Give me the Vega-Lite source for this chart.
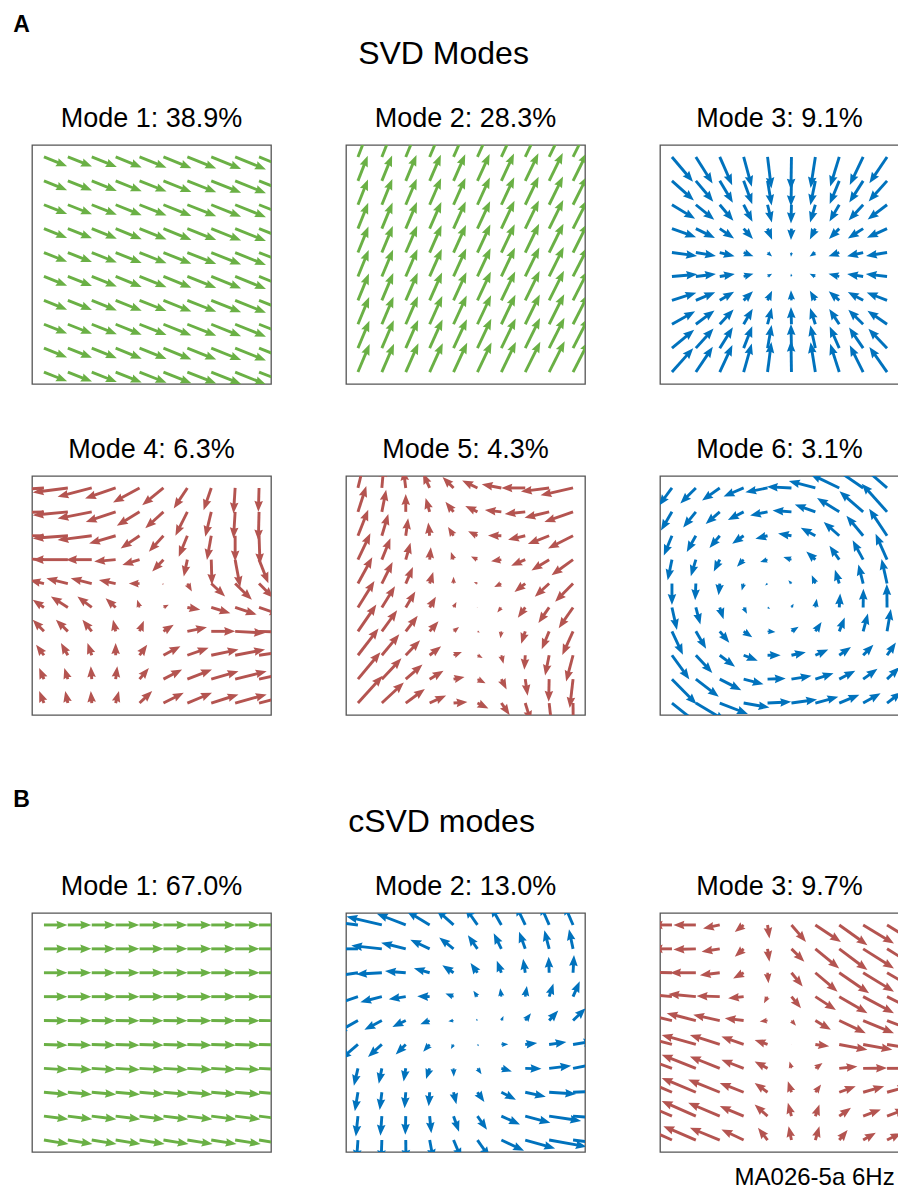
{
  "$schema": "https://vega.github.io/schema/vega-lite/v6.json",
  "background": "white",
  "padding": {"left": 13, "top": 14, "right": 0, "bottom": 0},
  "spacing": 73,
  "config": {
    "view": {"stroke": "#555555", "strokeWidth": 1.3},
    "font": "Liberation Sans",
    "title": {"font": "Liberation Sans", "fontWeight": "normal", "color": "#000000"},
    "header": {"labelFont": "Liberation Sans", "labelFontSize": 27, "labelColor": "#000000", "labelPadding": 12}
  },
  "datasets": {
    "modes": [
      {"p": 1, "label": "Mode 1: 38.9%"}, {"p": 2, "label": "Mode 2: 28.3%"}, {"p": 3, "label": "Mode 3: 9.1%"},
      {"p": 4, "label": "Mode 4: 6.3%"}, {"p": 5, "label": "Mode 5: 4.3%"}, {"p": 6, "label": "Mode 6: 3.1%"},
      {"p": 7, "label": "Mode 1: 67.0%"}, {"p": 8, "label": "Mode 2: 13.0%"}, {"p": 9, "label": "Mode 3: 9.7%"}
    ],
    "arrows": [
{"p":1,"c":0,"r":0,"u":0.97,"v":-0.39},{"p":1,"c":1,"r":0,"u":1.01,"v":-0.4},{"p":1,"c":2,"r":0,"u":1.05,"v":-0.42},{"p":1,"c":3,"r":0,"u":1.09,"v":-0.44},{"p":1,"c":4,"r":0,"u":1.13,"v":-0.45},{"p":1,"c":5,"r":0,"u":1.17,"v":-0.47},{"p":1,"c":6,"r":0,"u":1.21,"v":-0.48},{"p":1,"c":7,"r":0,"u":1.25,"v":-0.5},{"p":1,"c":8,"r":0,"u":1.29,"v":-0.52},{"p":1,"c":9,"r":0,"u":1.33,"v":-0.53},
{"p":1,"c":0,"r":1,"u":0.97,"v":-0.39},{"p":1,"c":1,"r":1,"u":1.01,"v":-0.4},{"p":1,"c":2,"r":1,"u":1.05,"v":-0.42},{"p":1,"c":3,"r":1,"u":1.09,"v":-0.44},{"p":1,"c":4,"r":1,"u":1.13,"v":-0.45},{"p":1,"c":5,"r":1,"u":1.17,"v":-0.47},{"p":1,"c":6,"r":1,"u":1.21,"v":-0.48},{"p":1,"c":7,"r":1,"u":1.25,"v":-0.5},{"p":1,"c":8,"r":1,"u":1.29,"v":-0.52},{"p":1,"c":9,"r":1,"u":1.33,"v":-0.53},
{"p":1,"c":0,"r":2,"u":0.97,"v":-0.39},{"p":1,"c":1,"r":2,"u":1.01,"v":-0.4},{"p":1,"c":2,"r":2,"u":1.05,"v":-0.42},{"p":1,"c":3,"r":2,"u":1.09,"v":-0.44},{"p":1,"c":4,"r":2,"u":1.13,"v":-0.45},{"p":1,"c":5,"r":2,"u":1.17,"v":-0.47},{"p":1,"c":6,"r":2,"u":1.21,"v":-0.48},{"p":1,"c":7,"r":2,"u":1.25,"v":-0.5},{"p":1,"c":8,"r":2,"u":1.29,"v":-0.52},{"p":1,"c":9,"r":2,"u":1.33,"v":-0.53},
{"p":1,"c":0,"r":3,"u":0.97,"v":-0.39},{"p":1,"c":1,"r":3,"u":1.01,"v":-0.4},{"p":1,"c":2,"r":3,"u":1.05,"v":-0.42},{"p":1,"c":3,"r":3,"u":1.09,"v":-0.44},{"p":1,"c":4,"r":3,"u":1.13,"v":-0.45},{"p":1,"c":5,"r":3,"u":1.17,"v":-0.47},{"p":1,"c":6,"r":3,"u":1.21,"v":-0.48},{"p":1,"c":7,"r":3,"u":1.25,"v":-0.5},{"p":1,"c":8,"r":3,"u":1.29,"v":-0.52},{"p":1,"c":9,"r":3,"u":1.33,"v":-0.53},
{"p":1,"c":0,"r":4,"u":0.97,"v":-0.39},{"p":1,"c":1,"r":4,"u":1.01,"v":-0.4},{"p":1,"c":2,"r":4,"u":1.05,"v":-0.42},{"p":1,"c":3,"r":4,"u":1.09,"v":-0.44},{"p":1,"c":4,"r":4,"u":1.13,"v":-0.45},{"p":1,"c":5,"r":4,"u":1.17,"v":-0.47},{"p":1,"c":6,"r":4,"u":1.21,"v":-0.48},{"p":1,"c":7,"r":4,"u":1.25,"v":-0.5},{"p":1,"c":8,"r":4,"u":1.29,"v":-0.52},{"p":1,"c":9,"r":4,"u":1.33,"v":-0.53},
{"p":1,"c":0,"r":5,"u":0.97,"v":-0.39},{"p":1,"c":1,"r":5,"u":1.01,"v":-0.4},{"p":1,"c":2,"r":5,"u":1.05,"v":-0.42},{"p":1,"c":3,"r":5,"u":1.09,"v":-0.44},{"p":1,"c":4,"r":5,"u":1.13,"v":-0.45},{"p":1,"c":5,"r":5,"u":1.17,"v":-0.47},{"p":1,"c":6,"r":5,"u":1.21,"v":-0.48},{"p":1,"c":7,"r":5,"u":1.25,"v":-0.5},{"p":1,"c":8,"r":5,"u":1.29,"v":-0.52},{"p":1,"c":9,"r":5,"u":1.33,"v":-0.53},
{"p":1,"c":0,"r":6,"u":0.97,"v":-0.39},{"p":1,"c":1,"r":6,"u":1.01,"v":-0.4},{"p":1,"c":2,"r":6,"u":1.05,"v":-0.42},{"p":1,"c":3,"r":6,"u":1.09,"v":-0.44},{"p":1,"c":4,"r":6,"u":1.13,"v":-0.45},{"p":1,"c":5,"r":6,"u":1.17,"v":-0.47},{"p":1,"c":6,"r":6,"u":1.21,"v":-0.48},{"p":1,"c":7,"r":6,"u":1.25,"v":-0.5},{"p":1,"c":8,"r":6,"u":1.29,"v":-0.52},{"p":1,"c":9,"r":6,"u":1.33,"v":-0.53},
{"p":1,"c":0,"r":7,"u":0.97,"v":-0.39},{"p":1,"c":1,"r":7,"u":1.01,"v":-0.4},{"p":1,"c":2,"r":7,"u":1.05,"v":-0.42},{"p":1,"c":3,"r":7,"u":1.09,"v":-0.44},{"p":1,"c":4,"r":7,"u":1.13,"v":-0.45},{"p":1,"c":5,"r":7,"u":1.17,"v":-0.47},{"p":1,"c":6,"r":7,"u":1.21,"v":-0.48},{"p":1,"c":7,"r":7,"u":1.25,"v":-0.5},{"p":1,"c":8,"r":7,"u":1.29,"v":-0.52},{"p":1,"c":9,"r":7,"u":1.33,"v":-0.53},
{"p":1,"c":0,"r":8,"u":0.97,"v":-0.39},{"p":1,"c":1,"r":8,"u":1.01,"v":-0.4},{"p":1,"c":2,"r":8,"u":1.05,"v":-0.42},{"p":1,"c":3,"r":8,"u":1.09,"v":-0.44},{"p":1,"c":4,"r":8,"u":1.13,"v":-0.45},{"p":1,"c":5,"r":8,"u":1.17,"v":-0.47},{"p":1,"c":6,"r":8,"u":1.21,"v":-0.48},{"p":1,"c":7,"r":8,"u":1.25,"v":-0.5},{"p":1,"c":8,"r":8,"u":1.29,"v":-0.52},{"p":1,"c":9,"r":8,"u":1.33,"v":-0.53},
{"p":1,"c":0,"r":9,"u":0.97,"v":-0.39},{"p":1,"c":1,"r":9,"u":1.01,"v":-0.4},{"p":1,"c":2,"r":9,"u":1.05,"v":-0.42},{"p":1,"c":3,"r":9,"u":1.09,"v":-0.44},{"p":1,"c":4,"r":9,"u":1.13,"v":-0.45},{"p":1,"c":5,"r":9,"u":1.17,"v":-0.47},{"p":1,"c":6,"r":9,"u":1.21,"v":-0.48},{"p":1,"c":7,"r":9,"u":1.25,"v":-0.5},{"p":1,"c":8,"r":9,"u":1.29,"v":-0.52},{"p":1,"c":9,"r":9,"u":1.33,"v":-0.53},
{"p":2,"c":0,"r":0,"u":0.4,"v":1.03},{"p":2,"c":1,"r":0,"u":0.42,"v":1.05},{"p":2,"c":2,"r":0,"u":0.44,"v":1.06},{"p":2,"c":3,"r":0,"u":0.46,"v":1.08},{"p":2,"c":4,"r":0,"u":0.48,"v":1.09},{"p":2,"c":5,"r":0,"u":0.5,"v":1.11},{"p":2,"c":6,"r":0,"u":0.52,"v":1.12},{"p":2,"c":7,"r":0,"u":0.54,"v":1.14},{"p":2,"c":8,"r":0,"u":0.56,"v":1.15},{"p":2,"c":9,"r":0,"u":0.58,"v":1.17},
{"p":2,"c":0,"r":1,"u":0.41,"v":1.05},{"p":2,"c":1,"r":1,"u":0.43,"v":1.06},{"p":2,"c":2,"r":1,"u":0.45,"v":1.08},{"p":2,"c":3,"r":1,"u":0.47,"v":1.09},{"p":2,"c":4,"r":1,"u":0.49,"v":1.11},{"p":2,"c":5,"r":1,"u":0.51,"v":1.12},{"p":2,"c":6,"r":1,"u":0.53,"v":1.14},{"p":2,"c":7,"r":1,"u":0.55,"v":1.15},{"p":2,"c":8,"r":1,"u":0.57,"v":1.17},{"p":2,"c":9,"r":1,"u":0.59,"v":1.18},
{"p":2,"c":0,"r":2,"u":0.42,"v":1.06},{"p":2,"c":1,"r":2,"u":0.44,"v":1.08},{"p":2,"c":2,"r":2,"u":0.46,"v":1.09},{"p":2,"c":3,"r":2,"u":0.48,"v":1.11},{"p":2,"c":4,"r":2,"u":0.5,"v":1.12},{"p":2,"c":5,"r":2,"u":0.52,"v":1.14},{"p":2,"c":6,"r":2,"u":0.54,"v":1.15},{"p":2,"c":7,"r":2,"u":0.56,"v":1.17},{"p":2,"c":8,"r":2,"u":0.58,"v":1.18},{"p":2,"c":9,"r":2,"u":0.6,"v":1.2},
{"p":2,"c":0,"r":3,"u":0.43,"v":1.08},{"p":2,"c":1,"r":3,"u":0.45,"v":1.09},{"p":2,"c":2,"r":3,"u":0.47,"v":1.11},{"p":2,"c":3,"r":3,"u":0.49,"v":1.12},{"p":2,"c":4,"r":3,"u":0.51,"v":1.14},{"p":2,"c":5,"r":3,"u":0.53,"v":1.15},{"p":2,"c":6,"r":3,"u":0.55,"v":1.17},{"p":2,"c":7,"r":3,"u":0.57,"v":1.18},{"p":2,"c":8,"r":3,"u":0.59,"v":1.2},{"p":2,"c":9,"r":3,"u":0.61,"v":1.21},
{"p":2,"c":0,"r":4,"u":0.44,"v":1.09},{"p":2,"c":1,"r":4,"u":0.46,"v":1.11},{"p":2,"c":2,"r":4,"u":0.48,"v":1.12},{"p":2,"c":3,"r":4,"u":0.5,"v":1.14},{"p":2,"c":4,"r":4,"u":0.52,"v":1.15},{"p":2,"c":5,"r":4,"u":0.54,"v":1.17},{"p":2,"c":6,"r":4,"u":0.56,"v":1.18},{"p":2,"c":7,"r":4,"u":0.58,"v":1.2},{"p":2,"c":8,"r":4,"u":0.6,"v":1.21},{"p":2,"c":9,"r":4,"u":0.62,"v":1.23},
{"p":2,"c":0,"r":5,"u":0.45,"v":1.11},{"p":2,"c":1,"r":5,"u":0.47,"v":1.12},{"p":2,"c":2,"r":5,"u":0.49,"v":1.14},{"p":2,"c":3,"r":5,"u":0.51,"v":1.15},{"p":2,"c":4,"r":5,"u":0.53,"v":1.17},{"p":2,"c":5,"r":5,"u":0.55,"v":1.18},{"p":2,"c":6,"r":5,"u":0.57,"v":1.2},{"p":2,"c":7,"r":5,"u":0.59,"v":1.21},{"p":2,"c":8,"r":5,"u":0.61,"v":1.23},{"p":2,"c":9,"r":5,"u":0.63,"v":1.24},
{"p":2,"c":0,"r":6,"u":0.46,"v":1.12},{"p":2,"c":1,"r":6,"u":0.48,"v":1.14},{"p":2,"c":2,"r":6,"u":0.5,"v":1.15},{"p":2,"c":3,"r":6,"u":0.52,"v":1.17},{"p":2,"c":4,"r":6,"u":0.54,"v":1.18},{"p":2,"c":5,"r":6,"u":0.56,"v":1.2},{"p":2,"c":6,"r":6,"u":0.58,"v":1.21},{"p":2,"c":7,"r":6,"u":0.6,"v":1.23},{"p":2,"c":8,"r":6,"u":0.62,"v":1.24},{"p":2,"c":9,"r":6,"u":0.64,"v":1.26},
{"p":2,"c":0,"r":7,"u":0.47,"v":1.14},{"p":2,"c":1,"r":7,"u":0.49,"v":1.15},{"p":2,"c":2,"r":7,"u":0.51,"v":1.17},{"p":2,"c":3,"r":7,"u":0.53,"v":1.18},{"p":2,"c":4,"r":7,"u":0.55,"v":1.2},{"p":2,"c":5,"r":7,"u":0.57,"v":1.21},{"p":2,"c":6,"r":7,"u":0.59,"v":1.23},{"p":2,"c":7,"r":7,"u":0.61,"v":1.24},{"p":2,"c":8,"r":7,"u":0.63,"v":1.26},{"p":2,"c":9,"r":7,"u":0.65,"v":1.27},
{"p":2,"c":0,"r":8,"u":0.48,"v":1.15},{"p":2,"c":1,"r":8,"u":0.5,"v":1.17},{"p":2,"c":2,"r":8,"u":0.52,"v":1.18},{"p":2,"c":3,"r":8,"u":0.54,"v":1.2},{"p":2,"c":4,"r":8,"u":0.56,"v":1.21},{"p":2,"c":5,"r":8,"u":0.58,"v":1.23},{"p":2,"c":6,"r":8,"u":0.6,"v":1.24},{"p":2,"c":7,"r":8,"u":0.62,"v":1.26},{"p":2,"c":8,"r":8,"u":0.64,"v":1.27},{"p":2,"c":9,"r":8,"u":0.66,"v":1.29},
{"p":2,"c":0,"r":9,"u":0.49,"v":1.17},{"p":2,"c":1,"r":9,"u":0.51,"v":1.18},{"p":2,"c":2,"r":9,"u":0.53,"v":1.2},{"p":2,"c":3,"r":9,"u":0.55,"v":1.21},{"p":2,"c":4,"r":9,"u":0.57,"v":1.23},{"p":2,"c":5,"r":9,"u":0.59,"v":1.24},{"p":2,"c":6,"r":9,"u":0.61,"v":1.26},{"p":2,"c":7,"r":9,"u":0.63,"v":1.27},{"p":2,"c":8,"r":9,"u":0.65,"v":1.29},{"p":2,"c":9,"r":9,"u":0.67,"v":1.3},
{"p":3,"c":0,"r":0,"u":0.88,"v":-1.04},{"p":3,"c":1,"r":0,"u":0.7,"v":-1.11},{"p":3,"c":2,"r":0,"u":0.52,"v":-1.18},{"p":3,"c":3,"r":0,"u":0.34,"v":-1.25},{"p":3,"c":4,"r":0,"u":0.16,"v":-1.32},{"p":3,"c":5,"r":0,"u":-0.02,"v":-1.37},{"p":3,"c":6,"r":0,"u":-0.2,"v":-1.3},{"p":3,"c":7,"r":0,"u":-0.38,"v":-1.24},{"p":3,"c":8,"r":0,"u":-0.56,"v":-1.17},{"p":3,"c":9,"r":0,"u":-0.74,"v":-1.1},
{"p":3,"c":0,"r":1,"u":0.92,"v":-0.82},{"p":3,"c":1,"r":1,"u":0.73,"v":-0.87},{"p":3,"c":2,"r":1,"u":0.55,"v":-0.92},{"p":3,"c":3,"r":1,"u":0.36,"v":-0.98},{"p":3,"c":4,"r":1,"u":0.17,"v":-1.03},{"p":3,"c":5,"r":1,"u":-0.02,"v":-1.07},{"p":3,"c":6,"r":1,"u":-0.21,"v":-1.02},{"p":3,"c":7,"r":1,"u":-0.4,"v":-0.97},{"p":3,"c":8,"r":1,"u":-0.58,"v":-0.91},{"p":3,"c":9,"r":1,"u":-0.77,"v":-0.86},
{"p":3,"c":0,"r":2,"u":0.97,"v":-0.59},{"p":3,"c":1,"r":2,"u":0.77,"v":-0.63},{"p":3,"c":2,"r":2,"u":0.57,"v":-0.67},{"p":3,"c":3,"r":2,"u":0.37,"v":-0.71},{"p":3,"c":4,"r":2,"u":0.18,"v":-0.74},{"p":3,"c":5,"r":2,"u":-0.02,"v":-0.78},{"p":3,"c":6,"r":2,"u":-0.22,"v":-0.74},{"p":3,"c":7,"r":2,"u":-0.41,"v":-0.7},{"p":3,"c":8,"r":2,"u":-0.61,"v":-0.66},{"p":3,"c":9,"r":2,"u":-0.81,"v":-0.62},
{"p":3,"c":0,"r":3,"u":1.01,"v":-0.36},{"p":3,"c":1,"r":3,"u":0.8,"v":-0.39},{"p":3,"c":2,"r":3,"u":0.6,"v":-0.41},{"p":3,"c":3,"r":3,"u":0.39,"v":-0.43},{"p":3,"c":4,"r":3,"u":0.19,"v":-0.46},{"p":3,"c":5,"r":3,"u":-0.02,"v":-0.48},{"p":3,"c":6,"r":3,"u":-0.23,"v":-0.45},{"p":3,"c":7,"r":3,"u":-0.43,"v":-0.43},{"p":3,"c":8,"r":3,"u":-0.64,"v":-0.41},{"p":3,"c":9,"r":3,"u":-0.84,"v":-0.38},
{"p":3,"c":0,"r":4,"u":1.05,"v":-0.14},{"p":3,"c":1,"r":4,"u":0.84,"v":-0.14},{"p":3,"c":2,"r":4,"u":0.62,"v":-0.15},{"p":3,"c":3,"r":4,"u":0.41,"v":-0.16},{"p":3,"c":4,"r":4,"u":0.19,"v":-0.17},{"p":3,"c":5,"r":4,"u":-0.02,"v":-0.18},{"p":3,"c":6,"r":4,"u":-0.24,"v":-0.17},{"p":3,"c":7,"r":4,"u":-0.45,"v":-0.16},{"p":3,"c":8,"r":4,"u":-0.67,"v":-0.15},{"p":3,"c":9,"r":4,"u":-0.88,"v":-0.14},
{"p":3,"c":0,"r":5,"u":1.06,"v":0.09},{"p":3,"c":1,"r":5,"u":0.84,"v":0.1},{"p":3,"c":2,"r":5,"u":0.63,"v":0.1},{"p":3,"c":3,"r":5,"u":0.41,"v":0.11},{"p":3,"c":4,"r":5,"u":0.19,"v":0.11},{"p":3,"c":5,"r":5,"u":-0.02,"v":0.12},{"p":3,"c":6,"r":5,"u":-0.24,"v":0.11},{"p":3,"c":7,"r":5,"u":-0.45,"v":0.11},{"p":3,"c":8,"r":5,"u":-0.67,"v":0.1},{"p":3,"c":9,"r":5,"u":-0.89,"v":0.1},
{"p":3,"c":0,"r":6,"u":1.02,"v":0.32},{"p":3,"c":1,"r":6,"u":0.81,"v":0.34},{"p":3,"c":2,"r":6,"u":0.6,"v":0.36},{"p":3,"c":3,"r":6,"u":0.39,"v":0.38},{"p":3,"c":4,"r":6,"u":0.19,"v":0.4},{"p":3,"c":5,"r":6,"u":-0.02,"v":0.42},{"p":3,"c":6,"r":6,"u":-0.23,"v":0.4},{"p":3,"c":7,"r":6,"u":-0.44,"v":0.38},{"p":3,"c":8,"r":6,"u":-0.64,"v":0.35},{"p":3,"c":9,"r":6,"u":-0.85,"v":0.33},
{"p":3,"c":0,"r":7,"u":0.97,"v":0.54},{"p":3,"c":1,"r":7,"u":0.78,"v":0.58},{"p":3,"c":2,"r":7,"u":0.58,"v":0.62},{"p":3,"c":3,"r":7,"u":0.38,"v":0.65},{"p":3,"c":4,"r":7,"u":0.18,"v":0.69},{"p":3,"c":5,"r":7,"u":-0.02,"v":0.72},{"p":3,"c":6,"r":7,"u":-0.22,"v":0.68},{"p":3,"c":7,"r":7,"u":-0.42,"v":0.64},{"p":3,"c":8,"r":7,"u":-0.62,"v":0.61},{"p":3,"c":9,"r":7,"u":-0.82,"v":0.57},
{"p":3,"c":0,"r":8,"u":0.93,"v":0.77},{"p":3,"c":1,"r":8,"u":0.74,"v":0.82},{"p":3,"c":2,"r":8,"u":0.55,"v":0.87},{"p":3,"c":3,"r":8,"u":0.36,"v":0.92},{"p":3,"c":4,"r":8,"u":0.17,"v":0.97},{"p":3,"c":5,"r":8,"u":-0.02,"v":1.01},{"p":3,"c":6,"r":8,"u":-0.21,"v":0.96},{"p":3,"c":7,"r":8,"u":-0.4,"v":0.91},{"p":3,"c":8,"r":8,"u":-0.59,"v":0.86},{"p":3,"c":9,"r":8,"u":-0.78,"v":0.81},
{"p":3,"c":0,"r":9,"u":0.89,"v":1.0},{"p":3,"c":1,"r":9,"u":0.71,"v":1.06},{"p":3,"c":2,"r":9,"u":0.53,"v":1.13},{"p":3,"c":3,"r":9,"u":0.34,"v":1.19},{"p":3,"c":4,"r":9,"u":0.16,"v":1.26},{"p":3,"c":5,"r":9,"u":-0.02,"v":1.31},{"p":3,"c":6,"r":9,"u":-0.2,"v":1.25},{"p":3,"c":7,"r":9,"u":-0.38,"v":1.18},{"p":3,"c":8,"r":9,"u":-0.56,"v":1.12},{"p":3,"c":9,"r":9,"u":-0.74,"v":1.05},
{"p":4,"c":0,"r":0,"u":-1.5,"v":-0.1},{"p":4,"c":1,"r":0,"u":-1.47,"v":-0.19},{"p":4,"c":2,"r":0,"u":-1.43,"v":-0.37},{"p":4,"c":3,"r":0,"u":-1.28,"v":-0.44},{"p":4,"c":4,"r":0,"u":-1.11,"v":-0.61},{"p":4,"c":5,"r":0,"u":-0.89,"v":-0.72},{"p":4,"c":6,"r":0,"u":-0.57,"v":-0.86},{"p":4,"c":7,"r":0,"u":-0.32,"v":-0.93},{"p":4,"c":8,"r":0,"u":-0.07,"v":-1.07},{"p":4,"c":9,"r":0,"u":-0.03,"v":-1.0},
{"p":4,"c":0,"r":1,"u":-1.5,"v":-0.05},{"p":4,"c":1,"r":1,"u":-1.47,"v":-0.14},{"p":4,"c":2,"r":1,"u":-1.43,"v":-0.28},{"p":4,"c":3,"r":1,"u":-1.25,"v":-0.42},{"p":4,"c":4,"r":1,"u":-0.95,"v":-0.58},{"p":4,"c":5,"r":1,"u":-0.76,"v":-0.69},{"p":4,"c":6,"r":1,"u":-0.5,"v":-1.0},{"p":4,"c":7,"r":1,"u":-0.25,"v":-1.04},{"p":4,"c":8,"r":1,"u":-0.07,"v":-1.11},{"p":4,"c":9,"r":1,"u":-0.03,"v":-1.2},
{"p":4,"c":0,"r":2,"u":-1.35,"v":0.0},{"p":4,"c":1,"r":2,"u":-1.47,"v":-0.11},{"p":4,"c":2,"r":2,"u":-1.43,"v":-0.18},{"p":4,"c":3,"r":2,"u":-1.11,"v":-0.32},{"p":4,"c":4,"r":2,"u":-0.79,"v":-0.53},{"p":4,"c":5,"r":2,"u":-0.61,"v":-0.67},{"p":4,"c":6,"r":2,"u":-0.36,"v":-0.88},{"p":4,"c":7,"r":2,"u":-0.18,"v":-1.01},{"p":4,"c":8,"r":2,"u":0.0,"v":-1.08},{"p":4,"c":9,"r":2,"u":0.04,"v":-1.2},
{"p":4,"c":0,"r":3,"u":-1.2,"v":0.05},{"p":4,"c":1,"r":3,"u":-1.47,"v":0.0},{"p":4,"c":2,"r":3,"u":-1.08,"v":0.0},{"p":4,"c":3,"r":3,"u":-0.9,"v":-0.08},{"p":4,"c":4,"r":3,"u":-0.72,"v":-0.22},{"p":4,"c":5,"r":3,"u":-0.47,"v":-0.5},{"p":4,"c":6,"r":3,"u":-0.15,"v":-0.71},{"p":4,"c":7,"r":3,"u":0.03,"v":-1.06},{"p":4,"c":8,"r":3,"u":0.21,"v":-1.15},{"p":4,"c":9,"r":3,"u":0.39,"v":-0.99},
{"p":4,"c":0,"r":4,"u":-0.6,"v":0.15},{"p":4,"c":1,"r":4,"u":-0.9,"v":0.22},{"p":4,"c":2,"r":4,"u":-0.88,"v":0.22},{"p":4,"c":3,"r":4,"u":-0.7,"v":0.15},{"p":4,"c":4,"r":4,"u":-0.45,"v":0.0},{"p":4,"c":5,"r":4,"u":-0.05,"v":-0.06},{"p":4,"c":6,"r":4,"u":0.19,"v":-0.33},{"p":4,"c":7,"r":4,"u":0.58,"v":-0.54},{"p":4,"c":8,"r":4,"u":0.7,"v":-0.68},{"p":4,"c":9,"r":4,"u":0.6,"v":-0.6},
{"p":4,"c":0,"r":5,"u":-0.47,"v":0.32},{"p":4,"c":1,"r":5,"u":-0.71,"v":0.46},{"p":4,"c":2,"r":5,"u":-0.6,"v":0.46},{"p":4,"c":3,"r":5,"u":-0.42,"v":0.39},{"p":4,"c":4,"r":5,"u":-0.1,"v":0.32},{"p":4,"c":5,"r":5,"u":0.22,"v":0.11},{"p":4,"c":6,"r":5,"u":0.54,"v":-0.1},{"p":4,"c":7,"r":5,"u":0.8,"v":-0.24},{"p":4,"c":8,"r":5,"u":0.9,"v":-0.3},{"p":4,"c":9,"r":5,"u":0.9,"v":-0.3},
{"p":4,"c":0,"r":6,"u":-0.47,"v":0.49},{"p":4,"c":1,"r":6,"u":-0.5,"v":0.49},{"p":4,"c":2,"r":6,"u":-0.39,"v":0.49},{"p":4,"c":3,"r":6,"u":-0.11,"v":0.49},{"p":4,"c":4,"r":6,"u":0.18,"v":0.44},{"p":4,"c":5,"r":6,"u":0.43,"v":0.28},{"p":4,"c":6,"r":6,"u":0.82,"v":0.17},{"p":4,"c":7,"r":6,"u":1.0,"v":0.0},{"p":4,"c":8,"r":6,"u":1.25,"v":-0.07},{"p":4,"c":9,"r":6,"u":1.3,"v":-0.05},
{"p":4,"c":0,"r":7,"u":-0.33,"v":0.44},{"p":4,"c":1,"r":7,"u":-0.29,"v":0.51},{"p":4,"c":2,"r":7,"u":-0.18,"v":0.51},{"p":4,"c":3,"r":7,"u":0.0,"v":0.51},{"p":4,"c":4,"r":7,"u":0.32,"v":0.44},{"p":4,"c":5,"r":7,"u":0.71,"v":0.38},{"p":4,"c":6,"r":7,"u":0.89,"v":0.31},{"p":4,"c":7,"r":7,"u":1.14,"v":0.24},{"p":4,"c":8,"r":7,"u":1.25,"v":0.24},{"p":4,"c":9,"r":7,"u":1.35,"v":0.2},
{"p":4,"c":0,"r":8,"u":-0.2,"v":0.47},{"p":4,"c":1,"r":8,"u":-0.15,"v":0.47},{"p":4,"c":2,"r":8,"u":-0.04,"v":0.54},{"p":4,"c":3,"r":8,"u":0.07,"v":0.54},{"p":4,"c":4,"r":8,"u":0.39,"v":0.47},{"p":4,"c":5,"r":8,"u":0.78,"v":0.4},{"p":4,"c":6,"r":8,"u":1.03,"v":0.4},{"p":4,"c":7,"r":8,"u":1.14,"v":0.33},{"p":4,"c":8,"r":8,"u":1.32,"v":0.33},{"p":4,"c":9,"r":8,"u":1.4,"v":0.3},
{"p":4,"c":0,"r":9,"u":-0.2,"v":0.5},{"p":4,"c":1,"r":9,"u":-0.11,"v":0.5},{"p":4,"c":2,"r":9,"u":-0.04,"v":0.5},{"p":4,"c":3,"r":9,"u":0.14,"v":0.5},{"p":4,"c":4,"r":9,"u":0.53,"v":0.5},{"p":4,"c":5,"r":9,"u":0.85,"v":0.43},{"p":4,"c":6,"r":9,"u":1.03,"v":0.43},{"p":4,"c":7,"r":9,"u":1.14,"v":0.36},{"p":4,"c":8,"r":9,"u":1.32,"v":0.36},{"p":4,"c":9,"r":9,"u":1.4,"v":0.35},
{"p":5,"c":0,"r":0,"u":0.26,"v":1.08},{"p":5,"c":1,"r":0,"u":0.08,"v":0.92},{"p":5,"c":2,"r":0,"u":-0.1,"v":0.77},{"p":5,"c":3,"r":0,"u":-0.28,"v":0.62},{"p":5,"c":4,"r":0,"u":-0.46,"v":0.46},{"p":5,"c":5,"r":0,"u":-0.64,"v":0.31},{"p":5,"c":6,"r":0,"u":-0.82,"v":0.15},{"p":5,"c":7,"r":0,"u":-1.0,"v":0.0},{"p":5,"c":8,"r":0,"u":-1.18,"v":-0.15},{"p":5,"c":9,"r":0,"u":-1.36,"v":-0.31},
{"p":5,"c":0,"r":1,"u":0.35,"v":1.08},{"p":5,"c":1,"r":1,"u":0.18,"v":0.92},{"p":5,"c":2,"r":1,"u":0.0,"v":0.75},{"p":5,"c":3,"r":1,"u":-0.17,"v":0.58},{"p":5,"c":4,"r":1,"u":-0.34,"v":0.42},{"p":5,"c":5,"r":1,"u":-0.51,"v":0.25},{"p":5,"c":6,"r":1,"u":-0.69,"v":0.08},{"p":5,"c":7,"r":1,"u":-0.86,"v":-0.09},{"p":5,"c":8,"r":1,"u":-1.03,"v":-0.25},{"p":5,"c":9,"r":1,"u":-1.2,"v":-0.42},
{"p":5,"c":0,"r":2,"u":0.43,"v":1.09},{"p":5,"c":1,"r":2,"u":0.27,"v":0.91},{"p":5,"c":2,"r":2,"u":0.1,"v":0.73},{"p":5,"c":3,"r":2,"u":-0.06,"v":0.55},{"p":5,"c":4,"r":2,"u":-0.23,"v":0.37},{"p":5,"c":5,"r":2,"u":-0.39,"v":0.19},{"p":5,"c":6,"r":2,"u":-0.56,"v":0.01},{"p":5,"c":7,"r":2,"u":-0.72,"v":-0.17},{"p":5,"c":8,"r":2,"u":-0.89,"v":-0.35},{"p":5,"c":9,"r":2,"u":-1.05,"v":-0.53},
{"p":5,"c":0,"r":3,"u":0.52,"v":1.1},{"p":5,"c":1,"r":3,"u":0.36,"v":0.9},{"p":5,"c":2,"r":3,"u":0.2,"v":0.71},{"p":5,"c":3,"r":3,"u":0.05,"v":0.52},{"p":5,"c":4,"r":3,"u":-0.11,"v":0.32},{"p":5,"c":5,"r":3,"u":-0.27,"v":0.13},{"p":5,"c":6,"r":3,"u":-0.43,"v":-0.07},{"p":5,"c":7,"r":3,"u":-0.59,"v":-0.26},{"p":5,"c":8,"r":3,"u":-0.74,"v":-0.45},{"p":5,"c":9,"r":3,"u":-0.9,"v":-0.65},
{"p":5,"c":0,"r":4,"u":0.6,"v":1.1},{"p":5,"c":1,"r":4,"u":0.45,"v":0.9},{"p":5,"c":2,"r":4,"u":0.3,"v":0.69},{"p":5,"c":3,"r":4,"u":0.15,"v":0.48},{"p":5,"c":4,"r":4,"u":0.0,"v":0.28},{"p":5,"c":5,"r":4,"u":-0.15,"v":0.07},{"p":5,"c":6,"r":4,"u":-0.3,"v":-0.14},{"p":5,"c":7,"r":4,"u":-0.45,"v":-0.35},{"p":5,"c":8,"r":4,"u":-0.6,"v":-0.55},{"p":5,"c":9,"r":4,"u":-0.75,"v":-0.76},
{"p":5,"c":0,"r":5,"u":0.69,"v":1.11},{"p":5,"c":1,"r":5,"u":0.55,"v":0.89},{"p":5,"c":2,"r":5,"u":0.4,"v":0.67},{"p":5,"c":3,"r":5,"u":0.26,"v":0.45},{"p":5,"c":4,"r":5,"u":0.12,"v":0.23},{"p":5,"c":5,"r":5,"u":-0.03,"v":0.01},{"p":5,"c":6,"r":5,"u":-0.17,"v":-0.21},{"p":5,"c":7,"r":5,"u":-0.31,"v":-0.43},{"p":5,"c":8,"r":5,"u":-0.45,"v":-0.65},{"p":5,"c":9,"r":5,"u":-0.6,"v":-0.87},
{"p":5,"c":0,"r":6,"u":0.77,"v":1.12},{"p":5,"c":1,"r":6,"u":0.64,"v":0.88},{"p":5,"c":2,"r":6,"u":0.5,"v":0.65},{"p":5,"c":3,"r":6,"u":0.37,"v":0.42},{"p":5,"c":4,"r":6,"u":0.23,"v":0.18},{"p":5,"c":5,"r":6,"u":0.1,"v":-0.05},{"p":5,"c":6,"r":6,"u":-0.04,"v":-0.29},{"p":5,"c":7,"r":6,"u":-0.17,"v":-0.52},{"p":5,"c":8,"r":6,"u":-0.31,"v":-0.75},{"p":5,"c":9,"r":6,"u":-0.45,"v":-0.99},
{"p":5,"c":0,"r":7,"u":0.86,"v":1.12},{"p":5,"c":1,"r":7,"u":0.73,"v":0.88},{"p":5,"c":2,"r":7,"u":0.6,"v":0.63},{"p":5,"c":3,"r":7,"u":0.48,"v":0.38},{"p":5,"c":4,"r":7,"u":0.35,"v":0.14},{"p":5,"c":5,"r":7,"u":0.22,"v":-0.11},{"p":5,"c":6,"r":7,"u":0.09,"v":-0.36},{"p":5,"c":7,"r":7,"u":-0.04,"v":-0.61},{"p":5,"c":8,"r":7,"u":-0.17,"v":-0.85},{"p":5,"c":9,"r":7,"u":-0.29,"v":-1.1},
{"p":5,"c":0,"r":8,"u":0.94,"v":1.13},{"p":5,"c":1,"r":8,"u":0.82,"v":0.87},{"p":5,"c":2,"r":8,"u":0.7,"v":0.61},{"p":5,"c":3,"r":8,"u":0.58,"v":0.35},{"p":5,"c":4,"r":8,"u":0.46,"v":0.09},{"p":5,"c":5,"r":8,"u":0.34,"v":-0.17},{"p":5,"c":6,"r":8,"u":0.22,"v":-0.43},{"p":5,"c":7,"r":8,"u":0.1,"v":-0.69},{"p":5,"c":8,"r":8,"u":-0.02,"v":-0.95},{"p":5,"c":9,"r":8,"u":-0.14,"v":-1.21},
{"p":5,"c":0,"r":9,"u":1.03,"v":1.14},{"p":5,"c":1,"r":9,"u":0.92,"v":0.86},{"p":5,"c":2,"r":9,"u":0.8,"v":0.59},{"p":5,"c":3,"r":9,"u":0.69,"v":0.32},{"p":5,"c":4,"r":9,"u":0.58,"v":0.04},{"p":5,"c":5,"r":9,"u":0.46,"v":-0.23},{"p":5,"c":6,"r":9,"u":0.35,"v":-0.51},{"p":5,"c":7,"r":9,"u":0.24,"v":-0.78},{"p":5,"c":8,"r":9,"u":0.12,"v":-1.05},{"p":5,"c":9,"r":9,"u":0.01,"v":-1.33},
{"p":6,"c":0,"r":0,"u":-0.55,"v":-0.74},{"p":6,"c":1,"r":0,"u":-0.65,"v":-0.65},{"p":6,"c":2,"r":0,"u":-0.74,"v":-0.53},{"p":6,"c":3,"r":0,"u":-0.84,"v":-0.36},{"p":6,"c":4,"r":0,"u":-0.93,"v":-0.18},{"p":6,"c":5,"r":0,"u":-1.03,"v":0.05},{"p":6,"c":6,"r":0,"u":-1.11,"v":0.29},{"p":6,"c":7,"r":0,"u":-1.21,"v":0.58},{"p":6,"c":8,"r":0,"u":-1.3,"v":0.89},{"p":6,"c":9,"r":0,"u":-1.4,"v":1.23},
{"p":6,"c":0,"r":1,"u":-0.46,"v":-0.78},{"p":6,"c":1,"r":1,"u":-0.53,"v":-0.66},{"p":6,"c":2,"r":1,"u":-0.59,"v":-0.51},{"p":6,"c":3,"r":1,"u":-0.66,"v":-0.34},{"p":6,"c":4,"r":1,"u":-0.73,"v":-0.15},{"p":6,"c":5,"r":1,"u":-0.79,"v":0.06},{"p":6,"c":6,"r":1,"u":-0.86,"v":0.31},{"p":6,"c":7,"r":1,"u":-0.93,"v":0.58},{"p":6,"c":8,"r":1,"u":-0.99,"v":0.86},{"p":6,"c":9,"r":1,"u":-1.06,"v":1.18},
{"p":6,"c":0,"r":2,"u":-0.34,"v":-0.83},{"p":6,"c":1,"r":2,"u":-0.38,"v":-0.68},{"p":6,"c":2,"r":2,"u":-0.43,"v":-0.51},{"p":6,"c":3,"r":2,"u":-0.48,"v":-0.33},{"p":6,"c":4,"r":2,"u":-0.51,"v":-0.13},{"p":6,"c":5,"r":2,"u":-0.56,"v":0.09},{"p":6,"c":6,"r":2,"u":-0.61,"v":0.33},{"p":6,"c":7,"r":2,"u":-0.65,"v":0.58},{"p":6,"c":8,"r":2,"u":-0.7,"v":0.84},{"p":6,"c":9,"r":2,"u":-0.75,"v":1.13},
{"p":6,"c":0,"r":3,"u":-0.18,"v":-0.86},{"p":6,"c":1,"r":3,"u":-0.21,"v":-0.69},{"p":6,"c":2,"r":3,"u":-0.25,"v":-0.5},{"p":6,"c":3,"r":3,"u":-0.28,"v":-0.3},{"p":6,"c":4,"r":3,"u":-0.31,"v":-0.1},{"p":6,"c":5,"r":3,"u":-0.34,"v":0.11},{"p":6,"c":6,"r":3,"u":-0.38,"v":0.34},{"p":6,"c":7,"r":3,"u":-0.41,"v":0.58},{"p":6,"c":8,"r":3,"u":-0.44,"v":0.81},{"p":6,"c":9,"r":3,"u":-0.48,"v":1.08},
{"p":6,"c":0,"r":4,"u":0.0,"v":-0.9},{"p":6,"c":1,"r":4,"u":-0.03,"v":-0.7},{"p":6,"c":2,"r":4,"u":-0.05,"v":-0.49},{"p":6,"c":3,"r":4,"u":-0.08,"v":-0.29},{"p":6,"c":4,"r":4,"u":-0.1,"v":-0.08},{"p":6,"c":5,"r":4,"u":-0.13,"v":0.14},{"p":6,"c":6,"r":4,"u":-0.15,"v":0.35},{"p":6,"c":7,"r":4,"u":-0.18,"v":0.58},{"p":6,"c":8,"r":4,"u":-0.2,"v":0.8},{"p":6,"c":9,"r":4,"u":-0.23,"v":1.03},
{"p":6,"c":0,"r":5,"u":0.21,"v":-0.94},{"p":6,"c":1,"r":5,"u":0.19,"v":-0.71},{"p":6,"c":2,"r":5,"u":0.16,"v":-0.49},{"p":6,"c":3,"r":5,"u":0.14,"v":-0.26},{"p":6,"c":4,"r":5,"u":0.11,"v":-0.05},{"p":6,"c":5,"r":5,"u":0.09,"v":0.16},{"p":6,"c":6,"r":5,"u":0.06,"v":0.36},{"p":6,"c":7,"r":5,"u":0.04,"v":0.58},{"p":6,"c":8,"r":5,"u":0.01,"v":0.78},{"p":6,"c":9,"r":5,"u":-0.01,"v":0.98},
{"p":6,"c":0,"r":6,"u":0.46,"v":-0.98},{"p":6,"c":1,"r":6,"u":0.43,"v":-0.73},{"p":6,"c":2,"r":6,"u":0.4,"v":-0.48},{"p":6,"c":3,"r":6,"u":0.36,"v":-0.25},{"p":6,"c":4,"r":6,"u":0.33,"v":-0.03},{"p":6,"c":5,"r":6,"u":0.3,"v":0.19},{"p":6,"c":6,"r":6,"u":0.26,"v":0.39},{"p":6,"c":7,"r":6,"u":0.23,"v":0.58},{"p":6,"c":8,"r":6,"u":0.2,"v":0.75},{"p":6,"c":9,"r":6,"u":0.16,"v":0.93},
{"p":6,"c":0,"r":7,"u":0.73,"v":-1.01},{"p":6,"c":1,"r":7,"u":0.69,"v":-0.74},{"p":6,"c":2,"r":7,"u":0.64,"v":-0.48},{"p":6,"c":3,"r":7,"u":0.59,"v":-0.23},{"p":6,"c":4,"r":7,"u":0.55,"v":0.0},{"p":6,"c":5,"r":7,"u":0.6,"v":0.13},{"p":6,"c":6,"r":7,"u":0.54,"v":0.24},{"p":6,"c":7,"r":7,"u":0.49,"v":0.35},{"p":6,"c":8,"r":7,"u":0.43,"v":0.44},{"p":6,"c":9,"r":7,"u":0.37,"v":0.53},
{"p":6,"c":0,"r":8,"u":1.03,"v":-1.05},{"p":6,"c":1,"r":8,"u":0.96,"v":-0.74},{"p":6,"c":2,"r":8,"u":0.9,"v":-0.46},{"p":6,"c":3,"r":8,"u":0.83,"v":-0.21},{"p":6,"c":4,"r":8,"u":0.76,"v":0.03},{"p":6,"c":5,"r":8,"u":0.84,"v":0.14},{"p":6,"c":6,"r":8,"u":0.76,"v":0.25},{"p":6,"c":7,"r":8,"u":0.67,"v":0.35},{"p":6,"c":8,"r":8,"u":0.6,"v":0.43},{"p":6,"c":9,"r":8,"u":0.52,"v":0.5},
{"p":6,"c":0,"r":9,"u":1.36,"v":-1.09},{"p":6,"c":1,"r":9,"u":1.26,"v":-0.75},{"p":6,"c":2,"r":9,"u":1.18,"v":-0.46},{"p":6,"c":3,"r":9,"u":1.08,"v":-0.19},{"p":6,"c":4,"r":9,"u":0.99,"v":0.05},{"p":6,"c":5,"r":9,"u":1.07,"v":0.15},{"p":6,"c":6,"r":9,"u":0.96,"v":0.26},{"p":6,"c":7,"r":9,"u":0.84,"v":0.35},{"p":6,"c":8,"r":9,"u":0.73,"v":0.41},{"p":6,"c":9,"r":9,"u":0.61,"v":0.47},
{"p":7,"c":0,"r":0,"u":0.98,"v":0},{"p":7,"c":1,"r":0,"u":0.98,"v":0},{"p":7,"c":2,"r":0,"u":0.99,"v":0},{"p":7,"c":3,"r":0,"u":0.99,"v":0},{"p":7,"c":4,"r":0,"u":1.0,"v":0},{"p":7,"c":5,"r":0,"u":1.0,"v":0},{"p":7,"c":6,"r":0,"u":1.01,"v":0},{"p":7,"c":7,"r":0,"u":1.01,"v":0},{"p":7,"c":8,"r":0,"u":1.02,"v":0},{"p":7,"c":9,"r":0,"u":1.02,"v":0},
{"p":7,"c":0,"r":1,"u":0.98,"v":0},{"p":7,"c":1,"r":1,"u":0.98,"v":0},{"p":7,"c":2,"r":1,"u":0.99,"v":0},{"p":7,"c":3,"r":1,"u":0.99,"v":0},{"p":7,"c":4,"r":1,"u":1.0,"v":0},{"p":7,"c":5,"r":1,"u":1.0,"v":0},{"p":7,"c":6,"r":1,"u":1.01,"v":0},{"p":7,"c":7,"r":1,"u":1.01,"v":0},{"p":7,"c":8,"r":1,"u":1.02,"v":0},{"p":7,"c":9,"r":1,"u":1.02,"v":0},
{"p":7,"c":0,"r":2,"u":0.98,"v":0},{"p":7,"c":1,"r":2,"u":0.98,"v":0},{"p":7,"c":2,"r":2,"u":0.99,"v":0},{"p":7,"c":3,"r":2,"u":0.99,"v":0},{"p":7,"c":4,"r":2,"u":1.0,"v":0},{"p":7,"c":5,"r":2,"u":1.0,"v":0},{"p":7,"c":6,"r":2,"u":1.01,"v":0},{"p":7,"c":7,"r":2,"u":1.01,"v":0},{"p":7,"c":8,"r":2,"u":1.02,"v":0},{"p":7,"c":9,"r":2,"u":1.02,"v":0},
{"p":7,"c":0,"r":3,"u":0.98,"v":0},{"p":7,"c":1,"r":3,"u":0.98,"v":0},{"p":7,"c":2,"r":3,"u":0.99,"v":0},{"p":7,"c":3,"r":3,"u":0.99,"v":0},{"p":7,"c":4,"r":3,"u":1.0,"v":0},{"p":7,"c":5,"r":3,"u":1.0,"v":0},{"p":7,"c":6,"r":3,"u":1.01,"v":0},{"p":7,"c":7,"r":3,"u":1.01,"v":0},{"p":7,"c":8,"r":3,"u":1.02,"v":0},{"p":7,"c":9,"r":3,"u":1.02,"v":0},
{"p":7,"c":0,"r":4,"u":0.98,"v":-0.01},{"p":7,"c":1,"r":4,"u":0.98,"v":-0.01},{"p":7,"c":2,"r":4,"u":0.99,"v":-0.01},{"p":7,"c":3,"r":4,"u":0.99,"v":-0.01},{"p":7,"c":4,"r":4,"u":1.0,"v":-0.01},{"p":7,"c":5,"r":4,"u":1.0,"v":-0.01},{"p":7,"c":6,"r":4,"u":1.01,"v":-0.01},{"p":7,"c":7,"r":4,"u":1.01,"v":-0.01},{"p":7,"c":8,"r":4,"u":1.02,"v":-0.01},{"p":7,"c":9,"r":4,"u":1.02,"v":-0.01},
{"p":7,"c":0,"r":5,"u":0.99,"v":-0.03},{"p":7,"c":1,"r":5,"u":0.99,"v":-0.03},{"p":7,"c":2,"r":5,"u":1.0,"v":-0.03},{"p":7,"c":3,"r":5,"u":1.0,"v":-0.03},{"p":7,"c":4,"r":5,"u":1.01,"v":-0.03},{"p":7,"c":5,"r":5,"u":1.01,"v":-0.03},{"p":7,"c":6,"r":5,"u":1.02,"v":-0.03},{"p":7,"c":7,"r":5,"u":1.02,"v":-0.03},{"p":7,"c":8,"r":5,"u":1.03,"v":-0.03},{"p":7,"c":9,"r":5,"u":1.03,"v":-0.03},
{"p":7,"c":0,"r":6,"u":1.0,"v":-0.06},{"p":7,"c":1,"r":6,"u":1.0,"v":-0.06},{"p":7,"c":2,"r":6,"u":1.01,"v":-0.06},{"p":7,"c":3,"r":6,"u":1.01,"v":-0.06},{"p":7,"c":4,"r":6,"u":1.02,"v":-0.06},{"p":7,"c":5,"r":6,"u":1.02,"v":-0.06},{"p":7,"c":6,"r":6,"u":1.03,"v":-0.06},{"p":7,"c":7,"r":6,"u":1.03,"v":-0.06},{"p":7,"c":8,"r":6,"u":1.04,"v":-0.06},{"p":7,"c":9,"r":6,"u":1.04,"v":-0.06},
{"p":7,"c":0,"r":7,"u":1.01,"v":-0.09},{"p":7,"c":1,"r":7,"u":1.01,"v":-0.09},{"p":7,"c":2,"r":7,"u":1.02,"v":-0.09},{"p":7,"c":3,"r":7,"u":1.02,"v":-0.09},{"p":7,"c":4,"r":7,"u":1.03,"v":-0.09},{"p":7,"c":5,"r":7,"u":1.03,"v":-0.09},{"p":7,"c":6,"r":7,"u":1.04,"v":-0.09},{"p":7,"c":7,"r":7,"u":1.04,"v":-0.09},{"p":7,"c":8,"r":7,"u":1.05,"v":-0.09},{"p":7,"c":9,"r":7,"u":1.05,"v":-0.09},
{"p":7,"c":0,"r":8,"u":1.02,"v":-0.13},{"p":7,"c":1,"r":8,"u":1.02,"v":-0.13},{"p":7,"c":2,"r":8,"u":1.03,"v":-0.13},{"p":7,"c":3,"r":8,"u":1.03,"v":-0.13},{"p":7,"c":4,"r":8,"u":1.04,"v":-0.13},{"p":7,"c":5,"r":8,"u":1.04,"v":-0.13},{"p":7,"c":6,"r":8,"u":1.05,"v":-0.13},{"p":7,"c":7,"r":8,"u":1.05,"v":-0.13},{"p":7,"c":8,"r":8,"u":1.06,"v":-0.13},{"p":7,"c":9,"r":8,"u":1.06,"v":-0.13},
{"p":7,"c":0,"r":9,"u":1.03,"v":-0.17},{"p":7,"c":1,"r":9,"u":1.03,"v":-0.17},{"p":7,"c":2,"r":9,"u":1.04,"v":-0.17},{"p":7,"c":3,"r":9,"u":1.04,"v":-0.17},{"p":7,"c":4,"r":9,"u":1.05,"v":-0.17},{"p":7,"c":5,"r":9,"u":1.05,"v":-0.17},{"p":7,"c":6,"r":9,"u":1.06,"v":-0.17},{"p":7,"c":7,"r":9,"u":1.06,"v":-0.17},{"p":7,"c":8,"r":9,"u":1.07,"v":-0.17},{"p":7,"c":9,"r":9,"u":1.07,"v":-0.17},
{"p":8,"c":0,"r":0,"u":-1.78,"v":0.22},{"p":8,"c":1,"r":0,"u":-1.48,"v":0.35},{"p":8,"c":2,"r":0,"u":-1.21,"v":0.47},{"p":8,"c":3,"r":0,"u":-0.96,"v":0.58},{"p":8,"c":4,"r":0,"u":-0.73,"v":0.66},{"p":8,"c":5,"r":0,"u":-0.52,"v":0.74},{"p":8,"c":6,"r":0,"u":-0.45,"v":0.79},{"p":8,"c":7,"r":0,"u":-0.4,"v":0.84},{"p":8,"c":8,"r":0,"u":-0.38,"v":0.87},{"p":8,"c":9,"r":0,"u":-0.38,"v":0.88},
{"p":8,"c":0,"r":1,"u":-1.54,"v":0.0},{"p":8,"c":1,"r":1,"u":-1.28,"v":0.14},{"p":8,"c":2,"r":1,"u":-1.03,"v":0.26},{"p":8,"c":3,"r":1,"u":-0.81,"v":0.38},{"p":8,"c":4,"r":1,"u":-0.6,"v":0.48},{"p":8,"c":5,"r":1,"u":-0.4,"v":0.57},{"p":8,"c":6,"r":1,"u":-0.32,"v":0.65},{"p":8,"c":7,"r":1,"u":-0.26,"v":0.72},{"p":8,"c":8,"r":1,"u":-0.2,"v":0.78},{"p":8,"c":9,"r":1,"u":-0.17,"v":0.82},
{"p":8,"c":0,"r":2,"u":-1.31,"v":-0.2},{"p":8,"c":1,"r":2,"u":-1.08,"v":-0.06},{"p":8,"c":2,"r":2,"u":-0.87,"v":0.07},{"p":8,"c":3,"r":2,"u":-0.66,"v":0.19},{"p":8,"c":4,"r":2,"u":-0.47,"v":0.31},{"p":8,"c":5,"r":2,"u":-0.29,"v":0.41},{"p":8,"c":6,"r":2,"u":-0.19,"v":0.5},{"p":8,"c":7,"r":2,"u":-0.09,"v":0.59},{"p":8,"c":8,"r":2,"u":-0.02,"v":0.67},{"p":8,"c":9,"r":2,"u":0.04,"v":0.74},
{"p":8,"c":0,"r":3,"u":-1.1,"v":-0.37},{"p":8,"c":1,"r":3,"u":-0.9,"v":-0.23},{"p":8,"c":2,"r":3,"u":-0.71,"v":-0.11},{"p":8,"c":3,"r":3,"u":-0.52,"v":0.02},{"p":8,"c":4,"r":3,"u":-0.34,"v":0.13},{"p":8,"c":5,"r":3,"u":-0.17,"v":0.25},{"p":8,"c":6,"r":3,"u":-0.05,"v":0.35},{"p":8,"c":7,"r":3,"u":0.07,"v":0.45},{"p":8,"c":8,"r":3,"u":0.18,"v":0.55},{"p":8,"c":9,"r":3,"u":0.28,"v":0.64},
{"p":8,"c":0,"r":4,"u":-0.91,"v":-0.51},{"p":8,"c":1,"r":4,"u":-0.73,"v":-0.39},{"p":8,"c":2,"r":4,"u":-0.56,"v":-0.27},{"p":8,"c":3,"r":4,"u":-0.39,"v":-0.15},{"p":8,"c":4,"r":4,"u":-0.22,"v":-0.03},{"p":8,"c":5,"r":4,"u":-0.06,"v":0.08},{"p":8,"c":6,"r":4,"u":0.09,"v":0.19},{"p":8,"c":7,"r":4,"u":0.24,"v":0.31},{"p":8,"c":8,"r":4,"u":0.38,"v":0.42},{"p":8,"c":9,"r":4,"u":0.53,"v":0.52},
{"p":8,"c":0,"r":5,"u":-0.73,"v":-0.63},{"p":8,"c":1,"r":5,"u":-0.58,"v":-0.52},{"p":8,"c":2,"r":5,"u":-0.42,"v":-0.42},{"p":8,"c":3,"r":5,"u":-0.27,"v":-0.31},{"p":8,"c":4,"r":5,"u":-0.11,"v":-0.19},{"p":8,"c":5,"r":5,"u":0.06,"v":-0.08},{"p":8,"c":6,"r":5,"u":0.29,"v":0.01},{"p":8,"c":7,"r":5,"u":0.5,"v":0.06},{"p":8,"c":8,"r":5,"u":0.72,"v":0.1},{"p":8,"c":9,"r":5,"u":0.9,"v":0.14},
{"p":8,"c":0,"r":6,"u":-0.17,"v":-0.73},{"p":8,"c":1,"r":6,"u":-0.13,"v":-0.64},{"p":8,"c":2,"r":6,"u":-0.09,"v":-0.55},{"p":8,"c":3,"r":6,"u":-0.15,"v":-0.45},{"p":8,"c":4,"r":6,"u":0.01,"v":-0.35},{"p":8,"c":5,"r":6,"u":0.17,"v":-0.25},{"p":8,"c":6,"r":6,"u":0.44,"v":-0.13},{"p":8,"c":7,"r":6,"u":0.68,"v":-0.02},{"p":8,"c":8,"r":6,"u":0.92,"v":0.11},{"p":8,"c":9,"r":6,"u":1.17,"v":0.23},
{"p":8,"c":0,"r":7,"u":-0.13,"v":-0.8},{"p":8,"c":1,"r":7,"u":-0.09,"v":-0.74},{"p":8,"c":2,"r":7,"u":-0.05,"v":-0.67},{"p":8,"c":3,"r":7,"u":-0.04,"v":-0.59},{"p":8,"c":4,"r":7,"u":0.12,"v":-0.5},{"p":8,"c":5,"r":7,"u":0.29,"v":-0.41},{"p":8,"c":6,"r":7,"u":0.61,"v":-0.31},{"p":8,"c":7,"r":7,"u":0.86,"v":-0.19},{"p":8,"c":8,"r":7,"u":1.13,"v":-0.07},{"p":8,"c":9,"r":7,"u":1.4,"v":0.06},
{"p":8,"c":0,"r":8,"u":-0.09,"v":-0.85},{"p":8,"c":1,"r":8,"u":-0.06,"v":-0.82},{"p":8,"c":2,"r":8,"u":-0.02,"v":-0.78},{"p":8,"c":3,"r":8,"u":0.07,"v":-0.72},{"p":8,"c":4,"r":8,"u":0.23,"v":-0.65},{"p":8,"c":5,"r":8,"u":0.4,"v":-0.57},{"p":8,"c":6,"r":8,"u":0.78,"v":-0.35},{"p":8,"c":7,"r":8,"u":1.05,"v":-0.28},{"p":8,"c":8,"r":8,"u":1.34,"v":-0.2},{"p":8,"c":9,"r":8,"u":1.66,"v":-0.12},
{"p":8,"c":0,"r":9,"u":-0.06,"v":-0.87},{"p":8,"c":1,"r":9,"u":-0.03,"v":-0.88},{"p":8,"c":2,"r":9,"u":0.01,"v":-0.87},{"p":8,"c":3,"r":9,"u":0.16,"v":-0.84},{"p":8,"c":4,"r":9,"u":0.33,"v":-0.79},{"p":8,"c":5,"r":9,"u":0.52,"v":-0.74},{"p":8,"c":6,"r":9,"u":0.95,"v":-0.45},{"p":8,"c":7,"r":9,"u":1.25,"v":-0.35},{"p":8,"c":8,"r":9,"u":1.57,"v":-0.28},{"p":8,"c":9,"r":9,"u":1.92,"v":-0.22},
{"p":9,"c":0,"r":0,"u":-0.85,"v":0.0},{"p":9,"c":1,"r":0,"u":-0.94,"v":0.0},{"p":9,"c":2,"r":0,"u":-0.7,"v":-0.15},{"p":9,"c":3,"r":0,"u":-0.37,"v":-0.3},{"p":9,"c":4,"r":0,"u":0.08,"v":-0.57},{"p":9,"c":5,"r":0,"u":0.61,"v":-0.71},{"p":9,"c":6,"r":0,"u":1.07,"v":-0.71},{"p":9,"c":7,"r":0,"u":1.18,"v":-0.85},{"p":9,"c":8,"r":0,"u":1.29,"v":-0.78},{"p":9,"c":9,"r":0,"u":1.3,"v":-0.8},
{"p":9,"c":0,"r":1,"u":-0.85,"v":0.0},{"p":9,"c":1,"r":1,"u":-0.94,"v":-0.03},{"p":9,"c":2,"r":1,"u":-0.76,"v":-0.12},{"p":9,"c":3,"r":1,"u":-0.37,"v":-0.33},{"p":9,"c":4,"r":1,"u":0.08,"v":-0.54},{"p":9,"c":5,"r":1,"u":0.54,"v":-0.54},{"p":9,"c":6,"r":1,"u":1.0,"v":-0.82},{"p":9,"c":7,"r":1,"u":1.18,"v":-0.89},{"p":9,"c":8,"r":1,"u":1.29,"v":-0.82},{"p":9,"c":9,"r":1,"u":1.3,"v":-0.8},
{"p":9,"c":0,"r":2,"u":-0.95,"v":0.02},{"p":9,"c":1,"r":2,"u":-1.08,"v":0.0},{"p":9,"c":2,"r":2,"u":-0.83,"v":-0.1},{"p":9,"c":3,"r":2,"u":-0.44,"v":-0.24},{"p":9,"c":4,"r":2,"u":0.04,"v":-0.44},{"p":9,"c":5,"r":2,"u":0.47,"v":-0.58},{"p":9,"c":6,"r":2,"u":0.93,"v":-0.79},{"p":9,"c":7,"r":2,"u":1.25,"v":-0.86},{"p":9,"c":8,"r":2,"u":1.29,"v":-0.79},{"p":9,"c":9,"r":2,"u":1.3,"v":-0.75},
{"p":9,"c":0,"r":3,"u":-1.0,"v":0.1},{"p":9,"c":1,"r":3,"u":-1.15,"v":0.11},{"p":9,"c":2,"r":3,"u":-0.97,"v":0.03},{"p":9,"c":3,"r":3,"u":-0.65,"v":-0.07},{"p":9,"c":4,"r":3,"u":-0.15,"v":-0.28},{"p":9,"c":5,"r":3,"u":0.4,"v":-0.49},{"p":9,"c":6,"r":3,"u":0.86,"v":-0.56},{"p":9,"c":7,"r":3,"u":1.18,"v":-0.69},{"p":9,"c":8,"r":3,"u":1.29,"v":-0.69},{"p":9,"c":9,"r":3,"u":1.3,"v":-0.65},
{"p":9,"c":0,"r":4,"u":-1.1,"v":0.25},{"p":9,"c":1,"r":4,"u":-1.22,"v":0.31},{"p":9,"c":2,"r":4,"u":-1.11,"v":0.24},{"p":9,"c":3,"r":4,"u":-0.79,"v":0.1},{"p":9,"c":4,"r":4,"u":-0.33,"v":-0.04},{"p":9,"c":5,"r":4,"u":0.19,"v":-0.22},{"p":9,"c":6,"r":4,"u":0.65,"v":-0.39},{"p":9,"c":7,"r":4,"u":1.11,"v":-0.53},{"p":9,"c":8,"r":4,"u":1.29,"v":-0.53},{"p":9,"c":9,"r":4,"u":1.3,"v":-0.5},
{"p":9,"c":0,"r":5,"u":-1.3,"v":0.35},{"p":9,"c":1,"r":5,"u":-1.43,"v":0.4},{"p":9,"c":2,"r":5,"u":-1.25,"v":0.4},{"p":9,"c":3,"r":5,"u":-0.93,"v":0.33},{"p":9,"c":4,"r":5,"u":-0.54,"v":0.19},{"p":9,"c":5,"r":5,"u":0.02,"v":0.0},{"p":9,"c":6,"r":5,"u":0.58,"v":-0.08},{"p":9,"c":7,"r":5,"u":1.18,"v":-0.22},{"p":9,"c":8,"r":5,"u":1.22,"v":-0.22},{"p":9,"c":9,"r":5,"u":1.25,"v":-0.2},
{"p":9,"c":0,"r":6,"u":-1.4,"v":0.5},{"p":9,"c":1,"r":6,"u":-1.43,"v":0.57},{"p":9,"c":2,"r":6,"u":-1.25,"v":0.5},{"p":9,"c":3,"r":6,"u":-0.93,"v":0.36},{"p":9,"c":4,"r":6,"u":-0.54,"v":0.29},{"p":9,"c":5,"r":6,"u":-0.08,"v":0.29},{"p":9,"c":6,"r":6,"u":0.3,"v":0.22},{"p":9,"c":7,"r":6,"u":0.76,"v":0.08},{"p":9,"c":8,"r":6,"u":1.0,"v":0.01},{"p":9,"c":9,"r":6,"u":1.0,"v":0.0},
{"p":9,"c":0,"r":7,"u":-1.4,"v":0.6},{"p":9,"c":1,"r":7,"u":-1.43,"v":0.6},{"p":9,"c":2,"r":7,"u":-1.32,"v":0.53},{"p":9,"c":3,"r":7,"u":-1.0,"v":0.39},{"p":9,"c":4,"r":7,"u":-0.54,"v":0.39},{"p":9,"c":5,"r":7,"u":-0.15,"v":0.46},{"p":9,"c":6,"r":7,"u":0.24,"v":0.32},{"p":9,"c":7,"r":7,"u":0.69,"v":0.25},{"p":9,"c":8,"r":7,"u":0.88,"v":0.25},{"p":9,"c":9,"r":7,"u":0.9,"v":0.25},
{"p":9,"c":0,"r":8,"u":-1.4,"v":0.6},{"p":9,"c":1,"r":8,"u":-1.43,"v":0.63},{"p":9,"c":2,"r":8,"u":-1.32,"v":0.56},{"p":9,"c":3,"r":8,"u":-1.0,"v":0.42},{"p":9,"c":4,"r":8,"u":-0.54,"v":0.49},{"p":9,"c":5,"r":8,"u":-0.15,"v":0.56},{"p":9,"c":6,"r":8,"u":0.17,"v":0.49},{"p":9,"c":7,"r":8,"u":0.49,"v":0.35},{"p":9,"c":8,"r":8,"u":0.74,"v":0.28},{"p":9,"c":9,"r":8,"u":0.8,"v":0.3},
{"p":9,"c":0,"r":9,"u":-1.3,"v":0.6},{"p":9,"c":1,"r":9,"u":-1.36,"v":0.58},{"p":9,"c":2,"r":9,"u":-1.25,"v":0.51},{"p":9,"c":3,"r":9,"u":-0.93,"v":0.44},{"p":9,"c":4,"r":9,"u":-0.4,"v":0.51},{"p":9,"c":5,"r":9,"u":-0.12,"v":0.58},{"p":9,"c":6,"r":9,"u":0.17,"v":0.58},{"p":9,"c":7,"r":9,"u":0.35,"v":0.42},{"p":9,"c":8,"r":9,"u":0.53,"v":0.31},{"p":9,"c":9,"r":9,"u":0.6,"v":0.3}
    ]
  },
  "vconcat": [
    {
      "title": {"text": "A", "anchor": "start", "fontSize": 23, "fontWeight": "bold", "dx": -18, "offset": 1},
      "vconcat": [
        {
          "title": {"text": "SVD Modes", "anchor": "middle", "fontSize": 32, "dx": -22, "offset": 33},
          "data": {"name": "arrows"},
          "transform": [
            {"filter": "datum.p <= 6"},
            {"lookup": "p", "from": {"data": {"name": "modes"}, "key": "p", "fields": ["label"]}},
            {"calculate": "sqrt(datum.u*datum.u+datum.v*datum.v)", "as": "len"},
            {"calculate": "min(1, datum.len/0.5)", "as": "k"},
            {"calculate": "datum.c+datum.u", "as": "tx"},
            {"calculate": "datum.r-datum.v", "as": "ty"},
            {"calculate": "datum.tx-datum.u/max(datum.len,0.001)*0.32*datum.k", "as": "sx"},
            {"calculate": "datum.ty+datum.v/max(datum.len,0.001)*0.32*datum.k", "as": "sy"},
            {"calculate": "atan2(-datum.v, datum.u)*180/PI", "as": "ang"},
            {"calculate": "121*datum.k*datum.k", "as": "hs"},
            {"calculate": "2.9*datum.k", "as": "sw"}
          ],
          "facet": {"field": "label", "type": "nominal", "sort": {"field": "p", "op": "min"}, "header": {"title": null, "labelFontSize": 27, "labelPadding": 12}},
          "columns": 3,
          "spacing": {"column": 73, "row": 50},
          "spec": {
            "width": 239,
            "height": 239,
            "encoding": {
              "color": {"field": "p", "type": "nominal", "scale": {"domain": [1, 2, 3, 4, 5, 6, 7, 8, 9], "range": ["#6ab045", "#6ab045", "#0072bd", "#b45450", "#b45450", "#0072bd", "#6ab045", "#0072bd", "#b45450"]}, "legend": null}
            },
            "layer": [
              {
                "mark": {"type": "rule", "clip": true, "strokeCap": "butt"},
                "encoding": {
                  "x": {"field": "c", "type": "quantitative", "scale": {"domain": [-0.5, 9.5], "nice": false, "zero": false}, "axis": null},
                  "y": {"field": "r", "type": "quantitative", "scale": {"domain": [-0.5, 9.5], "nice": false, "zero": false, "reverse": true}, "axis": null},
                  "x2": {"field": "sx"},
                  "y2": {"field": "sy"},
                  "strokeWidth": {"field": "sw", "type": "quantitative", "scale": null, "legend": null}
                }
              },
              {
                "mark": {"type": "point", "shape": "M0,0L-2,-0.78L-1.75,0L-2,0.78Z", "filled": true, "opacity": 1, "strokeWidth": 0, "clip": true},
                "encoding": {
                  "x": {"field": "tx", "type": "quantitative", "scale": {"domain": [-0.5, 9.5], "nice": false, "zero": false}, "axis": null},
                  "y": {"field": "ty", "type": "quantitative", "scale": {"domain": [-0.5, 9.5], "nice": false, "zero": false, "reverse": true}, "axis": null},
                  "angle": {"field": "ang", "type": "quantitative", "scale": null},
                  "size": {"field": "hs", "type": "quantitative", "scale": null, "legend": null}
                }
              }
            ]
          }
        }
      ]
    },
    {
      "title": {"text": "MA026-5a 6Hz", "orient": "bottom", "anchor": "end", "fontSize": 24, "offset": 13, "dx": -5},
      "vconcat": [
        {
          "title": {"text": "B", "anchor": "start", "fontSize": 23, "fontWeight": "bold", "dx": -18, "offset": -6},
          "vconcat": [
            {
              "title": {"text": "cSVD modes", "anchor": "middle", "fontSize": 32, "dx": -24, "offset": 33},
              "data": {"name": "arrows"},
              "transform": [
                {"filter": "datum.p > 6"},
                {"lookup": "p", "from": {"data": {"name": "modes"}, "key": "p", "fields": ["label"]}},
                {"calculate": "sqrt(datum.u*datum.u+datum.v*datum.v)", "as": "len"},
                {"calculate": "min(1, datum.len/0.5)", "as": "k"},
                {"calculate": "datum.c+datum.u", "as": "tx"},
                {"calculate": "datum.r-datum.v", "as": "ty"},
                {"calculate": "datum.tx-datum.u/max(datum.len,0.001)*0.32*datum.k", "as": "sx"},
                {"calculate": "datum.ty+datum.v/max(datum.len,0.001)*0.32*datum.k", "as": "sy"},
                {"calculate": "atan2(-datum.v, datum.u)*180/PI", "as": "ang"},
                {"calculate": "121*datum.k*datum.k", "as": "hs"},
                {"calculate": "2.9*datum.k", "as": "sw"}
              ],
              "facet": {"field": "label", "type": "nominal", "sort": {"field": "p", "op": "min"}, "header": {"title": null, "labelFontSize": 27, "labelPadding": 12}},
              "columns": 3,
              "spacing": {"column": 73, "row": 50},
              "spec": {
                "width": 239,
                "height": 239,
                "encoding": {
                  "color": {"field": "p", "type": "nominal", "scale": {"domain": [1, 2, 3, 4, 5, 6, 7, 8, 9], "range": ["#6ab045", "#6ab045", "#0072bd", "#b45450", "#b45450", "#0072bd", "#6ab045", "#0072bd", "#b45450"]}, "legend": null}
                },
                "layer": [
                  {
                    "mark": {"type": "rule", "clip": true, "strokeCap": "butt"},
                    "encoding": {
                      "x": {"field": "c", "type": "quantitative", "scale": {"domain": [-0.5, 9.5], "nice": false, "zero": false}, "axis": null},
                      "y": {"field": "r", "type": "quantitative", "scale": {"domain": [-0.5, 9.5], "nice": false, "zero": false, "reverse": true}, "axis": null},
                      "x2": {"field": "sx"},
                      "y2": {"field": "sy"},
                      "strokeWidth": {"field": "sw", "type": "quantitative", "scale": null, "legend": null}
                    }
                  },
                  {
                    "mark": {"type": "point", "shape": "M0,0L-2,-0.78L-1.75,0L-2,0.78Z", "filled": true, "opacity": 1, "strokeWidth": 0, "clip": true},
                    "encoding": {
                      "x": {"field": "tx", "type": "quantitative", "scale": {"domain": [-0.5, 9.5], "nice": false, "zero": false}, "axis": null},
                      "y": {"field": "ty", "type": "quantitative", "scale": {"domain": [-0.5, 9.5], "nice": false, "zero": false, "reverse": true}, "axis": null},
                      "angle": {"field": "ang", "type": "quantitative", "scale": null},
                      "size": {"field": "hs", "type": "quantitative", "scale": null, "legend": null}
                    }
                  }
                ]
              }
            }
          ]
        }
      ]
    }
  ]
}
